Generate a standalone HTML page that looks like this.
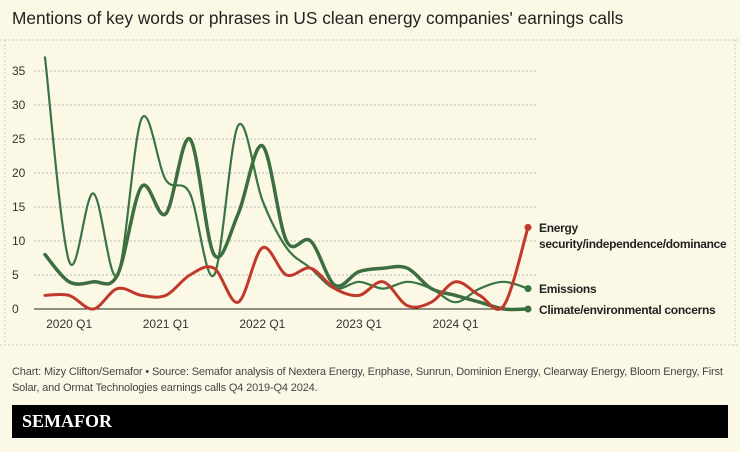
<!DOCTYPE html>
<html><head><meta charset="utf-8"><style>
body{margin:0;background:#fff}
#c{position:relative;width:740px;height:452px;background:#fbf9e6;font-family:"Liberation Sans",sans-serif;overflow:hidden}
.t{position:absolute;left:12px;top:8px;font-size:17.3px;color:#222}
.src{position:absolute;left:12px;top:364px;font-size:11px;line-height:16px;color:#444;width:724px;letter-spacing:-0.15px}
.bar{position:absolute;left:12px;top:405px;width:716px;height:33px;background:#000;color:#fff;font-family:"Liberation Serif",serif;font-weight:bold;font-size:18px;line-height:33px;padding-left:10px;box-sizing:border-box}
</style></head><body><div id="c">
<div class="t">Mentions of key words or phrases in US clean energy companies' earnings calls</div>
<svg width="740" height="360" style="position:absolute;left:0;top:0" id="s">
<line x1="0" y1="40" x2="740" y2="40" stroke="#ccc" stroke-dasharray="2,2"/>
<line x1="5" y1="40" x2="5" y2="345" stroke="#ccc" stroke-dasharray="2,2"/>
<line x1="735" y1="40" x2="735" y2="345" stroke="#ccc" stroke-dasharray="2,2"/>
<line x1="0" y1="345" x2="740" y2="345" stroke="#ccc" stroke-dasharray="2,2"/>
<g id="g" font-size="12" fill="#333"></g>
<line x1="34" y1="309" x2="530" y2="309" stroke="#222" stroke-width="1"/>
<g id="p" fill="none" stroke-linecap="round"></g>
<g font-size="12" font-weight="bold" fill="#222" letter-spacing="-0.3">
<text x="539" y="232">Energy</text>
<text x="539" y="248">security/independence/dominance</text>
<text x="539" y="293">Emissions</text>
<text x="539" y="314">Climate/environmental concerns</text>
</g>
</svg>
<div class="src">Chart: Mizy Clifton/Semafor • Source: Semafor analysis of Nextera Energy, Enphase, Sunrun, Dominion Energy, Clearway Energy, Bloom Energy, First Solar, and Ormat Technologies earnings calls Q4 2019-Q4 2024.</div>
<div class="bar">SEMAFOR</div>
</div>
<script>
const X=i=>45+i*24.15, Y=v=>309-v*6.8, NS="http://www.w3.org/2000/svg";
const g=document.getElementById('g');
for(let v=0;v<=35;v+=5){let y=Y(v);
 if(v>0){let l=document.createElementNS(NS,'line');l.setAttribute('x1',34);l.setAttribute('x2',536);l.setAttribute('y1',y);l.setAttribute('y2',y);l.setAttribute('stroke','#bbb');l.setAttribute('stroke-dasharray','2,2');g.appendChild(l);}
 let t=document.createElementNS(NS,'text');t.setAttribute('x',12);t.setAttribute('y',y+4);t.textContent=v;g.appendChild(t);}
[[1,'2020 Q1'],[5,'2021 Q1'],[9,'2022 Q1'],[13,'2023 Q1'],[17,'2024 Q1']].forEach(([i,s])=>{let t=document.createElementNS(NS,'text');t.setAttribute('x',X(i));t.setAttribute('y',328);t.setAttribute('text-anchor','middle');t.textContent=s;g.appendChild(t);});
function path(d){let p=d.map((v,i)=>[X(i),Y(v)]);let s=`M${p[0]}`;
 for(let i=0;i<p.length-1;i++){let a=p[i-1]||p[i],b=p[i],c=p[i+1],e=p[i+2]||c;
 s+=`C${b[0]+(c[0]-a[0])/6},${b[1]+(c[1]-a[1])/6} ${c[0]-(e[0]-b[0])/6},${c[1]-(e[1]-b[1])/6} ${c[0]},${c[1]}`;}return s;}
const series=[
 [[37,7,17,5,28,19,17,5,27,16,9,6,3,4,3,4,3,1,3,4,3],'#3a7442',2.2],
 [[8,4,4,5,18,14,25,8,14,24,10,10,3.5,5.5,6,6,3,2,1,0,0],'#3c6e3f',3.5],
 [[2,2,0,3,2,2,5,6,1,9,5,6,3,2,4,0.5,1,4,2,0.5,12],'#c0392b',3]];
const p=document.getElementById('p');
series.forEach(([d,c,w])=>{let e=document.createElementNS(NS,'path');e.setAttribute('d',path(d));e.setAttribute('stroke',c);e.setAttribute('stroke-width',w);p.appendChild(e);
 let ci=document.createElementNS(NS,'circle');ci.setAttribute('cx',X(20));ci.setAttribute('cy',Y(d[20]));ci.setAttribute('r',3.5);ci.setAttribute('fill',c);p.appendChild(ci);});
</script>
</body></html>
